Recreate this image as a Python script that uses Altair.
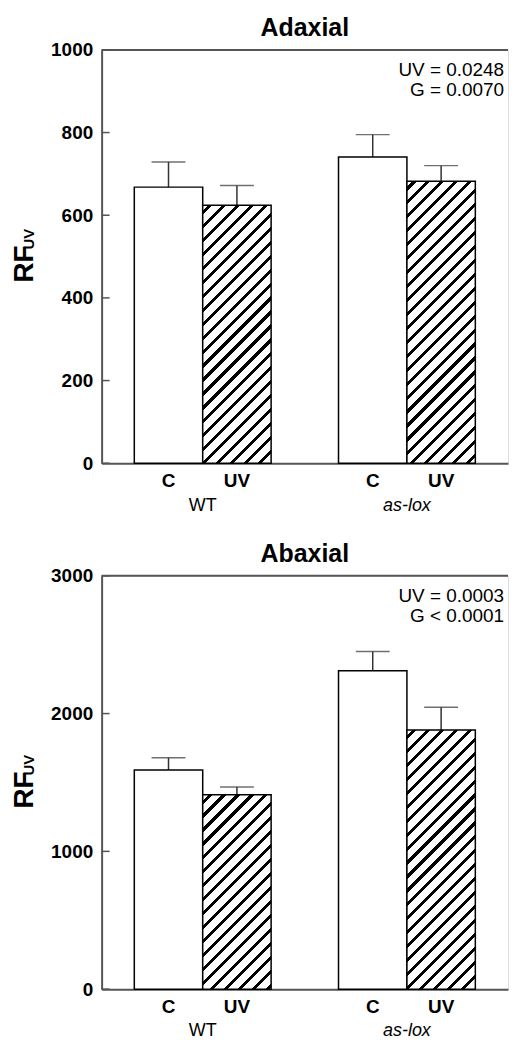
import altair as alt
import pandas as pd

# ---------------- data ----------------
groups = ["WT", "WT", "as-lox", "as-lox"]
treatments = ["C", "UV", "C", "UV"]

adaxial_mean = [668, 624, 741, 682]
adaxial_err = [61, 48, 54, 38]
abaxial_mean = [1591, 1411, 2311, 1881]
abaxial_err = [89, 56, 139, 165]

adaxial_ticks = [0, 200, 400, 600, 800, 1000]
abaxial_ticks = [0, 1000, 2000, 3000]

adaxial_stats = ["UV = 0.0248", "G = 0.0070"]
abaxial_stats = ["UV = 0.0003", "G < 0.0001"]

# ---------------- styling ----------------
W = 408
H = 415
FONT = "Liberation Sans"
AXIS_COLOR = "#555555"
PI, PO = 0.33, 0.16
STEP = W / (2 - PI + 2 * PO)
BAR_W = STEP * (1 - PI) / 2


def hatch(h_px, w_px=BAR_W, period=14.0, frac=0.3):
    L = w_px + h_px
    denom = h_px ** 2 + w_px ** 2
    a = w_px * L / denom
    b = h_px * L / denom
    stops = [{"offset": 0, "color": "white"}]
    p = period * 0.4
    while p < L:
        o0 = round(p / L, 5)
        o1 = round(min((p + period * frac) / L, 1), 5)
        stops += [
            {"offset": o0, "color": "white"},
            {"offset": o0, "color": "black"},
            {"offset": o1, "color": "black"},
            {"offset": o1, "color": "white"},
        ]
        p += period
    stops.append({"offset": 1, "color": "white"})
    return {"gradient": "linear", "x1": 0, "y1": 0, "x2": a, "y2": b, "stops": stops}


def panel(title, means, errs, ymax, ticks, stats):
    df = pd.DataFrame({
        "group": groups,
        "treat": treatments,
        "mean": means,
        "upper": [m + e for m, e in zip(means, errs)],
    })
    one = pd.DataFrame({"a": [0]})
    xenc = alt.X(
        "group:N", sort=["WT", "as-lox"],
        scale=alt.Scale(paddingInner=PI, paddingOuter=PO),
        axis=alt.Axis(
            title=None, ticks=False, tickSize=0, labelPadding=33, labelAngle=0,
            labelFont=FONT, labelFontSize=18, labelColor="black",
            labelFontStyle={"condition": {"test": "datum.value == 'as-lox'", "value": "italic"},
                            "value": "normal"},
            domainColor=AXIS_COLOR, domainWidth=2,
        ),
    )
    xoff = alt.XOffset("treat:N", sort=["C", "UV"],
                       scale=alt.Scale(paddingInner=0, paddingOuter=0))
    yscale = alt.Scale(domain=[0, ymax], nice=False, zero=True)
    yaxis = alt.Axis(
        title=None, values=ticks, format="d", ticks=False, tickSize=0, labelPadding=9,
        labelFont=FONT, labelFontSize=19, labelFontWeight="bold", labelColor="black",
        domainColor=AXIS_COLOR, domainWidth=2, grid=False, labelFlush=False,
    )
    base = alt.Chart(df).encode(x=xenc, xOffset=xoff)

    err_rule = base.mark_rule(color="#333333", strokeWidth=1.5).encode(
        y=alt.Y("mean:Q", scale=yscale, axis=yaxis), y2="upper:Q")
    err_cap = base.mark_tick(size=34, thickness=1.5, color="#333333",
                             orient="horizontal").encode(
        y=alt.Y("upper:Q", scale=yscale, axis=yaxis))
    c_bars = base.transform_filter("datum.treat == 'C'").mark_bar(
        fill="white", stroke="black", strokeWidth=1.5).encode(
        y=alt.Y("mean:Q", scale=yscale, axis=yaxis))
    layers = [err_rule, err_cap, c_bars]
    for g, t, m in zip(groups, treatments, means):
        if t != "UV":
            continue
        h_px = m / ymax * H
        layers.append(
            base.transform_filter(f"datum.group == '{g}' && datum.treat == 'UV'")
            .mark_bar(fill=hatch(h_px), stroke="black", strokeWidth=1.5)
            .encode(y=alt.Y("mean:Q", scale=yscale, axis=yaxis))
        )
    treat_labels = base.mark_text(
        font=FONT, fontSize=19, fontWeight="bold", color="black", baseline="middle"
    ).encode(text="treat:N", y=alt.value(H + 18))
    stats_text = alt.Chart(one).mark_text(
        text=stats, font=FONT, fontSize=19, color="black", align="right",
        baseline="middle", lineHeight=20,
    ).encode(x=alt.value(W - 4), y=alt.value(20))
    top_line = alt.Chart(one).mark_rule(color=AXIS_COLOR, strokeWidth=2).encode(
        x=alt.value(0), x2=alt.value(W), y=alt.value(0))
    inner_ticks = alt.Chart(pd.DataFrame({"v": ticks})).mark_rule(
        color=AXIS_COLOR, strokeWidth=1.5).encode(
        x=alt.value(0), x2=alt.value(8), y=alt.Y("v:Q", scale=yscale, axis=yaxis))
    rf = alt.Chart(one).mark_text(
        text="RF", angle=270, font=FONT, fontSize=28, fontWeight="bold",
        color="black", align="center", baseline="alphabetic",
    ).encode(x=alt.value(-69), y=alt.value(215))
    uv = alt.Chart(one).mark_text(
        text="UV", angle=270, font=FONT, fontSize=15, fontWeight="bold",
        color="black", align="center", baseline="alphabetic",
    ).encode(x=alt.value(-68), y=alt.value(190))
    layers += [treat_labels, stats_text, top_line, inner_ticks, rf, uv]
    return alt.layer(*layers).properties(
        width=W, height=H,
        title=alt.TitleParams(title, font=FONT, fontSize=25, fontWeight="bold",
                              color="black", anchor="middle", offset=0),
    )


top = panel("Adaxial", adaxial_mean, adaxial_err, 1000, adaxial_ticks, adaxial_stats)
bottom = panel("Abaxial", abaxial_mean, abaxial_err, 3000, abaxial_ticks, abaxial_stats)

chart = alt.vconcat(top, bottom, spacing=26).properties(
    padding={"left": 2, "top": 5, "right": 0, "bottom": -3}
).configure_view(stroke=None).configure(font=FONT, background="white")

chart.save("out.html", embed_options={"renderer": "svg", "actions": False})
